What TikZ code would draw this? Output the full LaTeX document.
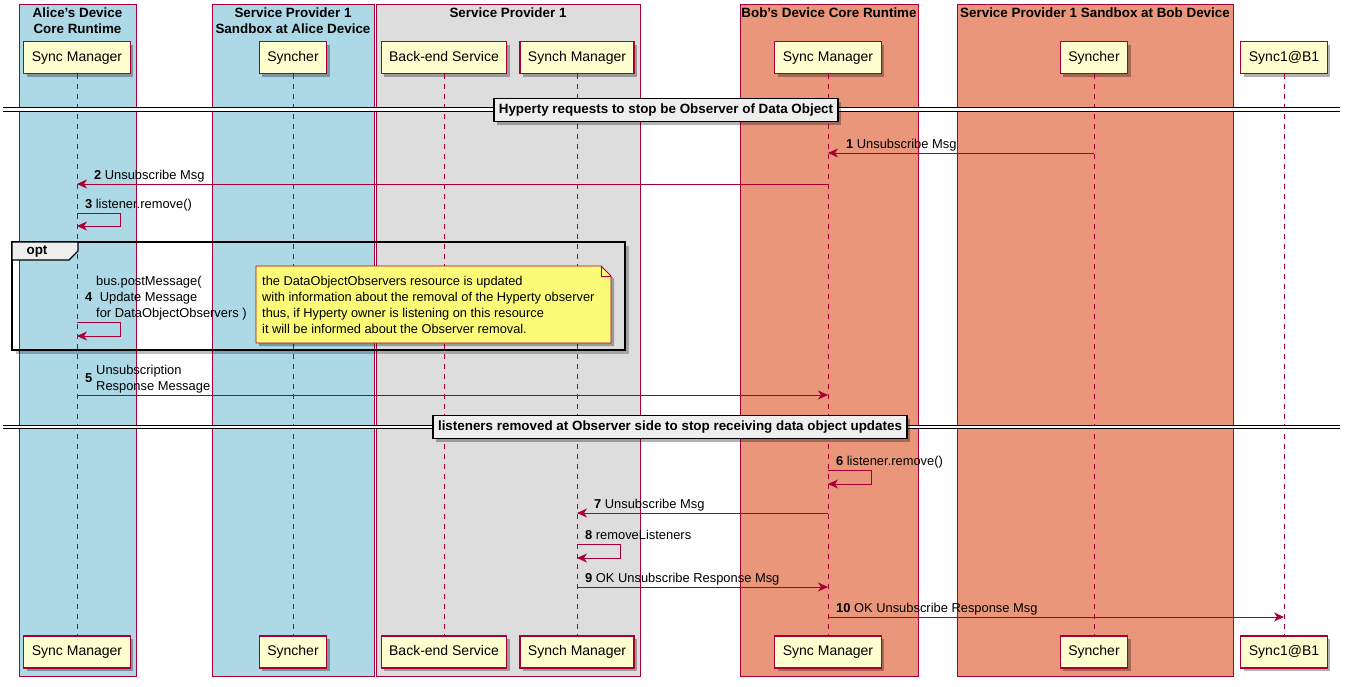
\documentclass[tikz,border=0pt]{standalone}
\usepackage{fontspec}
\setmainfont{Liberation Sans}
\usetikzlibrary{arrows.meta,shadows,calc}

\definecolor{pred}{HTML}{A80036}
\definecolor{pfill}{HTML}{FEFECE}
\definecolor{blueg}{HTML}{ADD8E6}
\definecolor{grayg}{HTML}{DDDDDD}
\definecolor{salmong}{HTML}{E9967A}
\definecolor{notefill}{HTML}{FBFB77}
\definecolor{divfill}{HTML}{EEEEEE}

\newcommand\partfont{\fontsize{14}{16}\selectfont}
\newcommand\msgfont{\fontsize{12.9}{16}\selectfont}
\newcommand\notefont{\fontsize{12.8}{16}\selectfont}
\newcommand\titlefont{\fontsize{13.4}{16}\selectfont\bfseries}

\tikzset{
  shade3/.style={drop shadow={shadow xshift=3pt, shadow yshift=-3pt, fill=black, opacity=0.3}},
  part/.style={draw=pred, fill=pfill, line width=1.1pt, minimum height=32pt,
    text height=10pt, text depth=3pt,
    inner xsep=8pt, inner ysep=0pt, font=\partfont, shade3},
  grpbox/.style={draw=pred, line width=0.8pt},
  grptitle/.style={font=\titlefont, inner sep=0pt, align=center},
  lifeline/.style={pred, line width=0.8pt, dash pattern=on 5pt off 5pt},
  msg/.style={pred, line width=1pt, -{Stealth[length=10pt,width=9pt,inset=3pt]}},
  lbl/.style={font=\msgfont, inner sep=0pt, anchor=base west},
  divline/.style={black, line width=1pt, double, double distance=2.2pt},
  divbox/.style={draw=black, fill=divfill, line width=1.4pt, font=\titlefont,
    text height=9.5pt, text depth=2.5pt,
    inner xsep=5pt, inner ysep=0pt, minimum height=23pt, shade3},
  notetext/.style={font=\notefont, inner sep=0pt, anchor=base west},
}
\newcommand\num[1]{{\bfseries #1}\hspace{3.5pt}}

\begin{document}
\begin{tikzpicture}[x=1pt, y=-1pt]
\useasboundingbox (0,0) rectangle (1346,686);
\fill[white] (0,0) rectangle (1346,686);

% participant groups
\path[grpbox, fill=blueg]   (19,4)  rectangle (136,676);
\path[grpbox, fill=blueg]   (212,4) rectangle (374,676);
\path[grpbox, fill=grayg]   (376,4) rectangle (640,676);
\path[grpbox, fill=salmong] (740,4) rectangle (918,676);
\path[grpbox, fill=salmong] (957,4) rectangle (1233,676);

\node[grptitle] (tA)  at (77.5,21) {Alice's Device\\Core Runtime};
\node[grptitle] (tSA) at (293,21)  {Service Provider 1\\Sandbox at Alice Device};
\node[grptitle] (tSP) at (508,13)  {Service Provider 1};
\node[grptitle] (tB)  at (829,13)  {Bob's Device Core Runtime};
\node[grptitle] (tSB) at (1095,13) {Service Provider 1 Sandbox at Bob Device};

% participants, head and foot
\node[part] (smA)  at (77,57.5)   {Sync Manager};
\node[part] (syA)  at (293,57.5)  {Syncher};
\node[part] (be)   at (444,57.5)  {Back-end Service};
\node[part] (smS)  at (577,57.5)  {Synch Manager};
\node[part] (smB)  at (828,57.5)  {Sync Manager};
\node[part] (syB)  at (1094,57.5) {Syncher};
\node[part] (s1)   at (1284,57.5) {Sync1@B1};

\node[part] (smAf) at (77,652)   {Sync Manager};
\node[part] (syAf) at (293,652)  {Syncher};
\node[part] (bef)  at (444,652)  {Back-end Service};
\node[part] (smSf) at (577,652)  {Synch Manager};
\node[part] (smBf) at (828,652)  {Sync Manager};
\node[part] (syBf) at (1094,652) {Syncher};
\node[part] (s1f)  at (1284,652) {Sync1@B1};

% lifelines
\draw[lifeline] (smA) -- (smAf);
\draw[lifeline] (syA) -- (syAf);
\draw[lifeline] (be)  -- (bef);
\draw[lifeline] (smS) -- (smSf);
\draw[lifeline] (smB) -- (smBf);
\draw[lifeline] (syB) -- (syBf);
\draw[lifeline] (s1)  -- (s1f);

% message levels
\coordinate (y1) at (0,153);
\coordinate (y2) at (0,184);
\coordinate (y3) at (0,213);
\coordinate (y4) at (0,322);
\coordinate (y5) at (0,395);
\coordinate (y6) at (0,470);
\coordinate (y7) at (0,513);
\coordinate (y8) at (0,544);
\coordinate (y9) at (0,587);
\coordinate (y10) at (0,617);

% first divider
\coordinate (d1l) at (3,109.5);
\coordinate (d1r) at (1340,109.5);
\draw[divline] (d1l) -- (d1r);
\node[divbox] (div1) at (666,110) {Hyperty requests to stop be Observer of Data Object};

% 1
\draw[msg] (syB |- y1) -- (smB |- y1);
\node[lbl] (l1) at ($(smB |- y1)+(18,-4.5)$) {\num{1}Unsubscribe Msg};
% 2
\draw[msg] (smB |- y2) -- (smA |- y2);
\node[lbl] (l2) at ($(smA |- y2)+(17,-4.5)$) {\num{2}Unsubscribe Msg};
% 3
\draw[msg] (smA |- y3) -- ++(43,0) -- ++(0,13) -- ++(-43,0);
\node[lbl] (l3) at ($(smA |- y3)+(8,-4.5)$) {\num{3}listener.remove()};

% opt fragment, with its shadow along the right and bottom edges
\draw[black, opacity=0.25, line width=3pt] (627.5,246) -- (627.5,352.5) -- (16,352.5);
\draw[black, line width=1.4pt] (12,242) rectangle (625,350);
\draw[black, line width=1.4pt, fill=divfill] (12,242) -- (78,242) -- (78,251) -- (69,260) -- (12,260) -- cycle;
\node[font=\titlefont, inner sep=0pt] (optl) at (37,252) {opt};

% 4
\draw[msg] (smA |- y4) -- ++(43,0) -- ++(0,14) -- ++(-43,0);
\node[lbl] (l4n) at ($(smA |- y4)+(8,-20.5)$) {\bfseries 4};
\node[lbl] (l4a) at ($(smA |- y4)+(19,-36.5)$) {bus.postMessage(};
\node[lbl] (l4b) at ($(smA |- y4)+(19,-20.5)$) {\ Update Message};
\node[lbl] (l4c) at ($(smA |- y4)+(19,-4.5)$)  {for DataObjectObservers )};

% note
\draw[pred, line width=0.8pt, fill=notefill, shade3]
  (256,266) -- (601,266) -- (611,276) -- (611,343) -- (256,343) -- cycle;
\draw[pred, line width=0.8pt] (601,266) -- (601,276) -- (611,276);
\node[notetext] (n1) at (262,285.5) {the DataObjectObservers resource is updated};
\node[notetext] (n2) at (262,301.5) {with information about the removal of the Hyperty observer};
\node[notetext] (n3) at (262,317)   {thus, if Hyperty owner is listening on this resource};
\node[notetext] (n4) at (262,333)   {it will be informed about the Observer removal.};

% 5
\draw[msg] (smA |- y5) -- (smB |- y5);
\node[lbl] (l5n) at ($(smA |- y5)+(8,-12.5)$) {\bfseries 5};
\node[lbl] (l5a) at ($(smA |- y5)+(19,-20.5)$) {Unsubscription};
\node[lbl] (l5b) at ($(smA |- y5)+(19,-4.5)$)  {Response Message};

% second divider
\coordinate (d2l) at (3,427);
\coordinate (d2r) at (1340,427);
\draw[divline] (d2l) -- (d2r);
\node[divbox] (div2) at (670,427) {listeners removed at Observer side to stop receiving data object updates};

% 6
\draw[msg] (smB |- y6) -- ++(43,0) -- ++(0,14) -- ++(-43,0);
\node[lbl] (l6) at ($(smB |- y6)+(8,-4.5)$) {\num{6}listener.remove()};
% 7
\draw[msg] (smB |- y7) -- (smS |- y7);
\node[lbl] (l7) at ($(smS |- y7)+(17,-4.5)$) {\num{7}Unsubscribe Msg};
% 8
\draw[msg] (smS |- y8) -- ++(43,0) -- ++(0,14) -- ++(-43,0);
\node[lbl] (l8) at ($(smS |- y8)+(8,-4.5)$) {\num{8}removeListeners};
% 9
\draw[msg] (smS |- y9) -- (smB |- y9);
\node[lbl] (l9) at ($(smS |- y9)+(8,-4.5)$) {\num{9}OK Unsubscribe Response Msg};
% 10
\draw[msg] (smB |- y10) -- (s1 |- y10);
\node[lbl] (l10) at ($(smB |- y10)+(8,-4.5)$) {\num{10}OK Unsubscribe Response Msg};
\end{tikzpicture}
\end{document}
